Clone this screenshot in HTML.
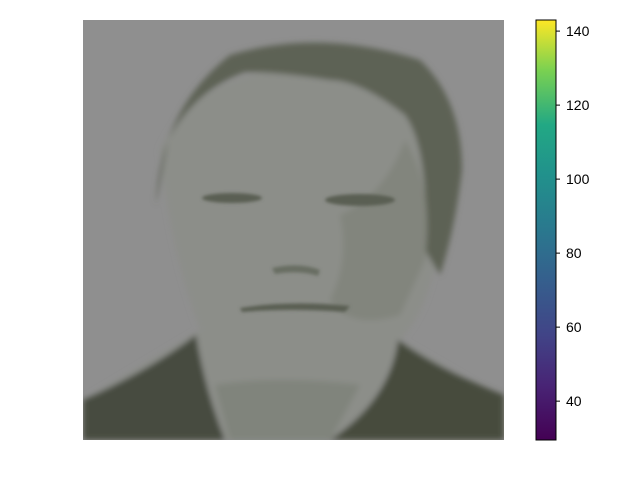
<!DOCTYPE html>
<html><head><meta charset="utf-8"><style>
body{margin:0;background:#fff;width:640px;height:480px;overflow:hidden;font-family:"Liberation Sans",sans-serif}
</style></head><body>
<svg width="640" height="480" xmlns="http://www.w3.org/2000/svg">
<defs>
<filter id="b" x="-20%" y="-20%" width="140%" height="140%"><feGaussianBlur stdDeviation="3"/></filter>
<filter id="b2"><feGaussianBlur stdDeviation="1.5"/></filter>
<linearGradient id="vir" x1="0" y1="1" x2="0" y2="0">
<stop offset="0" stop-color="#440154"/><stop offset="0.13" stop-color="#482475"/><stop offset="0.25" stop-color="#414487"/><stop offset="0.38" stop-color="#355f8d"/><stop offset="0.5" stop-color="#2a788e"/><stop offset="0.63" stop-color="#21918c"/><stop offset="0.75" stop-color="#22a884"/><stop offset="0.88" stop-color="#7ad151"/><stop offset="1" stop-color="#fde725"/>
</linearGradient>
<clipPath id="ic"><rect x="83" y="20" width="421" height="420"/></clipPath>
</defs>
<g clip-path="url(#ic)">
<rect x="83" y="20" width="421" height="420" fill="#8f8f8f"/>
<g filter="url(#b)">
<path d="M160,150 Q200,60 330,70 Q430,80 440,200 Q440,300 400,340 L504,400 L504,440 L83,440 L83,400 L200,330 Q170,250 160,150Z" fill="#8c8e89"/>
<path d="M156,205 Q160,110 230,55 Q320,28 420,60 Q462,100 462,170 Q455,230 440,275 L425,250 Q430,150 405,115 Q360,80 330,80 Q280,72 245,72 Q195,90 168,140 Z" fill="#5d6254"/>
<path d="M405,140 Q435,190 425,260 L400,315 Q350,330 330,300 Q350,260 340,215 Q385,195 405,140Z" fill="#7f837a" opacity="0.8"/>
<path d="M83,400 Q150,370 196,335 Q205,390 225,440 L83,440Z" fill="#474c3f"/>
<path d="M398,340 Q440,370 504,395 L504,440 L330,440 Q390,400 398,340Z" fill="#464b3e"/>
<path d="M215,385 Q280,375 360,385 L330,440 L230,440Z" fill="#80847b"/>
</g>
<g filter="url(#b2)" fill="#5a5f52">
<ellipse cx="232" cy="198" rx="30" ry="5"/>
<ellipse cx="360" cy="200" rx="35" ry="6"/>
<path d="M240,308 Q290,300 350,306 L345,312 Q290,308 242,312Z"/>
<path d="M272,268 Q300,262 320,270 L318,276 Q300,270 275,274Z" opacity="0.7"/>
</g>
</g>
<g>
<rect x="536" y="20" width="20" height="420" fill="url(#vir)" stroke="#000" stroke-width="1"/>
<g id="ticks" font-size="14" fill="#000"></g>
</g>
<script>
const tickValues=[40,60,80,100,120,140];
const vmin=29.5, vmax=143;
const g=document.getElementById('ticks');
tickValues.forEach(v=>{
 const y=440-(v-vmin)/(vmax-vmin)*420;
 const l=document.createElementNS('http://www.w3.org/2000/svg','line');
 l.setAttribute('x1',556);l.setAttribute('x2',560);l.setAttribute('y1',y);l.setAttribute('y2',y);l.setAttribute('stroke','#000');
 
 
 g.appendChild(l);
 const t=document.createElementNS('http://www.w3.org/2000/svg','text');
 t.setAttribute('x',566);t.setAttribute('y',y+5);t.textContent=v;
 
 
 g.appendChild(t);
});
</script>
</svg>
</body></html>
